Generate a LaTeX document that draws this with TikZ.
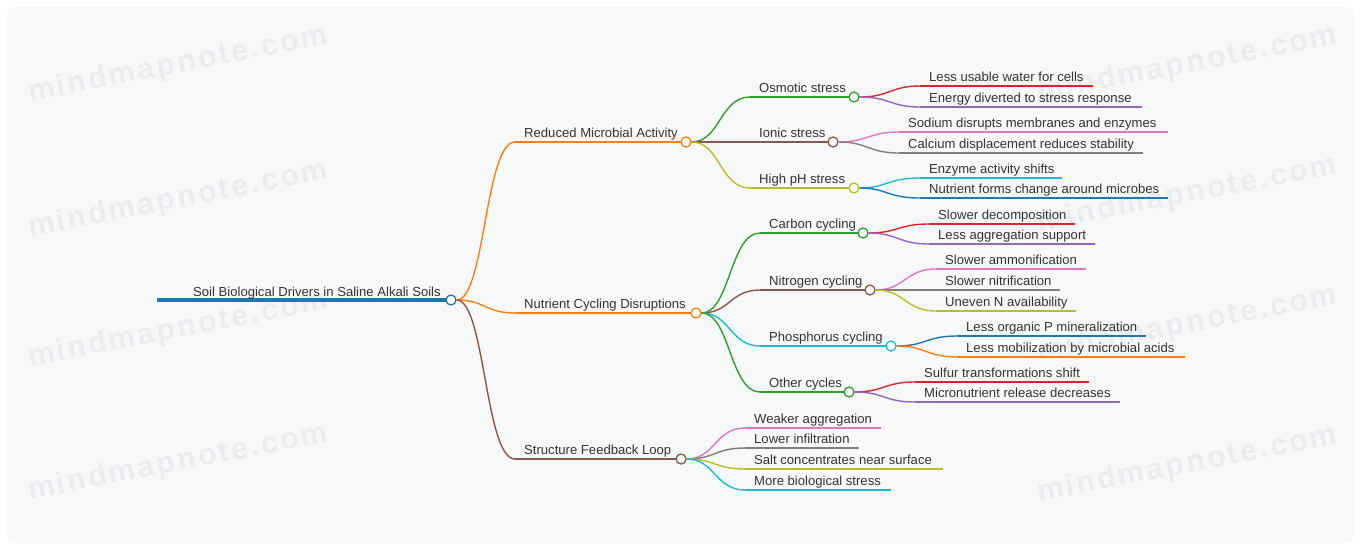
\documentclass[tikz,border=0pt]{standalone}
\usepackage{fontspec}
\setmainfont{Liberation Sans}
\newfontfamily\wmfont[LetterSpace=9]{Liberation Sans}
\definecolor{cblue}{HTML}{1F77B4}
\definecolor{corange}{HTML}{FF7F0E}
\definecolor{cgreen}{HTML}{2CA02C}
\definecolor{cred}{HTML}{D62728}
\definecolor{cpurple}{HTML}{9467BD}
\definecolor{cbrown}{HTML}{8C564B}
\definecolor{cpink}{HTML}{E377C2}
\definecolor{cgray}{HTML}{7F7F7F}
\definecolor{colive}{HTML}{BCBD22}
\definecolor{ccyan}{HTML}{17BECF}
\definecolor{txtc}{HTML}{333333}
\definecolor{panel}{HTML}{F7F8FA}
\definecolor{wmc}{HTML}{EBECEF}
\tikzset{
  txt/.style={font=\fontsize{13.1}{15}\selectfont, text=txtc, anchor=base west, inner sep=0pt},
  dot/.style={circle, draw, fill=white, line width=1.3pt, minimum size=10pt, inner sep=0pt},
  conn/.style={line width=1.4pt},
  lvone/.style={line width=2.8pt},
  lvtwo/.style={line width=2.6pt},
  lvthree/.style={line width=1.9pt},
  wm/.style={font=\wmfont\bfseries\fontsize{30}{33}\selectfont, text=wmc, rotate=11, inner sep=0pt}
}
% #1 name, #2 colour, #3 style, #4 x start, #5 y, #6 x end, #7 text
\newcommand\mmline[7]{%
  \coordinate (#1-s) at (#4,#5);
  \coordinate (#1-e) at (#6,#5);
  \draw[#2,#3] (#1-s) -- (#1-e);
  \node[txt] (#1) at (#4+9,#5-4.5) {#7};}
% #1 colour, #2 parent circle, #3 mid x, #4 parent y, #5 child y, #6 child coordinate
\newcommand\mmconn[6]{%
  \draw[#1,conn] (#2.east) .. controls (#3,#4) and (#3,#5) .. (#6);}
\begin{document}
\begin{tikzpicture}[x=1pt,y=-1pt]
\useasboundingbox (0,0) rectangle (1361,550);
\fill[white] (0,0) rectangle (1361,550);
\fill[panel, rounded corners=8pt] (7,7) rectangle (1354,543);
% watermarks
\foreach \wy in {65,200,330,463} {\node[wm] at (178,\wy) {mindmapnote.com};}
\foreach \wy in {65,195,325,465} {\node[wm] at (1187,\wy) {mindmapnote.com};}

% root
\coordinate (root-s) at (157,300);
\coordinate (root-e) at (451,300);
\draw[cblue, line width=4pt] (root-s) -- (root-e);
\node[txt] (root-t) at (193,296) {Soil Biological Drivers in Saline Alkali Soils};

% level 1
\mmline{rma}{corange}{lvone}{515}{142}{686}{Reduced Microbial Activity}
\mmline{ncd}{corange}{lvone}{515}{313}{696}{Nutrient Cycling Disruptions}
\mmline{sfl}{cbrown}{lvone}{515}{459}{681}{Structure Feedback Loop}

% level 2 under Reduced Microbial Activity
\mmline{osm}{cgreen}{lvtwo}{750}{97}{854}{Osmotic stress}
\mmline{ion}{cbrown}{lvtwo}{750}{142}{833}{Ionic stress}
\mmline{hph}{colive}{lvtwo}{750}{188}{854}{High pH stress}
% level 2 under Nutrient Cycling Disruptions
\mmline{car}{cgreen}{lvtwo}{760}{233}{863}{Carbon cycling}
\mmline{nit}{cbrown}{lvtwo}{760}{290}{870}{Nitrogen cycling}
\mmline{pho}{ccyan}{lvtwo}{760}{346}{891}{Phosphorus cycling}
\mmline{oth}{cgreen}{lvtwo}{760}{392}{849}{Other cycles}

% level 3
\mmline{o1}{cred}{lvthree}{920}{86}{1093}{Less usable water for cells}
\mmline{o2}{cpurple}{lvthree}{920}{107}{1142}{Energy diverted to stress response}
\mmline{i1}{cpink}{lvthree}{899}{132}{1168}{Sodium disrupts membranes and enzymes}
\mmline{i2}{cgray}{lvthree}{899}{153}{1143}{Calcium displacement reduces stability}
\mmline{h1}{ccyan}{lvthree}{920}{178}{1062}{Enzyme activity shifts}
\mmline{h2}{cblue}{lvthree}{920}{198}{1168}{Nutrient forms change around microbes}
\mmline{c1}{cred}{lvthree}{929}{224}{1075}{Slower decomposition}
\mmline{c2}{cpurple}{lvthree}{929}{244}{1095}{Less aggregation support}
\mmline{n1}{cpink}{lvthree}{936}{269}{1086}{Slower ammonification}
\mmline{n2}{cgray}{lvthree}{936}{290}{1060}{Slower nitrification}
\mmline{n3}{colive}{lvthree}{936}{311}{1076}{Uneven N availability}
\mmline{p1}{cblue}{lvthree}{957}{336}{1146}{Less organic P mineralization}
\mmline{p2}{corange}{lvthree}{957}{357}{1185}{Less mobilization by microbial acids}
\mmline{t1}{cred}{lvthree}{915}{382}{1089}{Sulfur transformations shift}
\mmline{t2}{cpurple}{lvthree}{915}{402}{1120}{Micronutrient release decreases}
\mmline{s1}{cpink}{lvthree}{745}{428}{881}{Weaker aggregation}
\mmline{s2}{cgray}{lvthree}{745}{448}{859}{Lower infiltration}
\mmline{s3}{colive}{lvthree}{745}{469}{943}{Salt concentrates near surface}
\mmline{s4}{ccyan}{lvthree}{745}{490}{891}{More biological stress}

% circles
\node[dot, draw=cblue] (root) at (root-e) {};
\node[dot, draw=corange] (rmaD) at (rma-e) {};
\node[dot, draw=corange] (ncdD) at (ncd-e) {};
\node[dot, draw=cbrown] (sflD) at (sfl-e) {};
\node[dot, draw=cgreen] (osmD) at (osm-e) {};
\node[dot, draw=cbrown] (ionD) at (ion-e) {};
\node[dot, draw=colive] (hphD) at (hph-e) {};
\node[dot, draw=cgreen] (carD) at (car-e) {};
\node[dot, draw=cbrown] (nitD) at (nit-e) {};
\node[dot, draw=ccyan] (phoD) at (pho-e) {};
\node[dot, draw=cgreen] (othD) at (oth-e) {};

% connectors
\mmconn{corange}{root}{485}{300}{142}{rma-s}
\mmconn{corange}{root}{485}{300}{313}{ncd-s}
\mmconn{cbrown}{root}{485}{300}{459}{sfl-s}
\mmconn{cgreen}{rmaD}{720}{142}{97}{osm-s}
\mmconn{cbrown}{rmaD}{720}{142}{142}{ion-s}
\mmconn{colive}{rmaD}{720}{142}{188}{hph-s}
\mmconn{cgreen}{ncdD}{730}{313}{233}{car-s}
\mmconn{cbrown}{ncdD}{730}{313}{290}{nit-s}
\mmconn{ccyan}{ncdD}{730}{313}{346}{pho-s}
\mmconn{cgreen}{ncdD}{730}{313}{392}{oth-s}
\mmconn{cred}{osmD}{890}{97}{86}{o1-s}
\mmconn{cpurple}{osmD}{890}{97}{107}{o2-s}
\mmconn{cpink}{ionD}{868}{142}{132}{i1-s}
\mmconn{cgray}{ionD}{868}{142}{153}{i2-s}
\mmconn{ccyan}{hphD}{887}{188}{178}{h1-s}
\mmconn{cblue}{hphD}{887}{188}{198}{h2-s}
\mmconn{cred}{carD}{898}{233}{224}{c1-s}
\mmconn{cpurple}{carD}{898}{233}{244}{c2-s}
\mmconn{cpink}{nitD}{905}{290}{269}{n1-s}
\mmconn{cgray}{nitD}{905}{290}{290}{n2-s}
\mmconn{colive}{nitD}{905}{290}{311}{n3-s}
\mmconn{cblue}{phoD}{926}{346}{336}{p1-s}
\mmconn{corange}{phoD}{926}{346}{357}{p2-s}
\mmconn{cred}{othD}{884}{392}{382}{t1-s}
\mmconn{cpurple}{othD}{884}{392}{402}{t2-s}
\mmconn{cpink}{sflD}{715}{459}{428}{s1-s}
\mmconn{cgray}{sflD}{715}{459}{448}{s2-s}
\mmconn{colive}{sflD}{715}{459}{469}{s3-s}
\mmconn{ccyan}{sflD}{715}{459}{490}{s4-s}
\end{tikzpicture}
\end{document}
